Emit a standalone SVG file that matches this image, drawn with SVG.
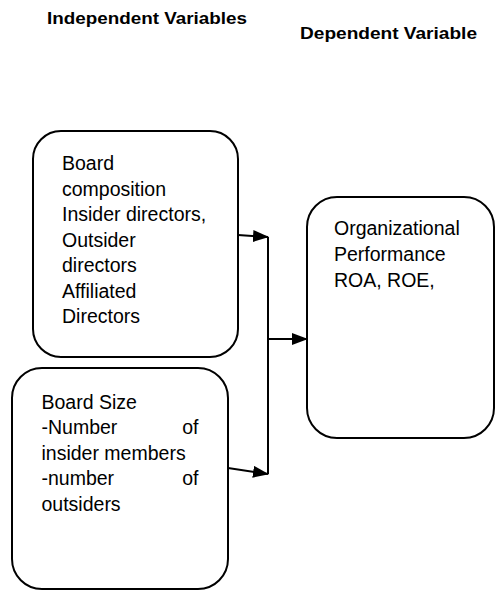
<svg xmlns="http://www.w3.org/2000/svg" width="496" height="590" viewBox="0 0 496 590">
  <defs>
    <style>
      .box { fill: #ffffff; stroke: #000000; stroke-width: 2; }
      .head { font-family: "Liberation Sans", Arial, sans-serif; font-weight: bold; font-size: 16.5px; fill: #000000; }
      .txt { font-family: "Liberation Sans", Arial, sans-serif; font-size: 19.5px; fill: #000000; }
      .conn { fill: none; stroke: #000000; stroke-width: 2; }
    </style>
    <marker id="arrow" viewBox="0 0 16 12" refX="15" refY="6" markerWidth="16" markerHeight="12" markerUnits="userSpaceOnUse" orient="auto">
      <path d="M0,0 L16,6 L0,12 Z" fill="#000000"/>
    </marker>
  </defs>
  <rect width="496" height="590" fill="#ffffff"/>

  <g id="headings">
    <text class="head" x="47" y="23.5" textLength="200" lengthAdjust="spacingAndGlyphs">Independent Variables</text>
    <text class="head" x="300" y="39" textLength="177" lengthAdjust="spacingAndGlyphs">Dependent Variable</text>
  </g>

  <g id="board-composition">
    <rect class="box" x="33" y="131" width="205" height="226" rx="28" ry="28"/>
    <text class="txt" x="62" y="170">Board</text>
    <text class="txt" x="62" y="195.5">composition</text>
    <text class="txt" x="62" y="221">Insider directors,</text>
    <text class="txt" x="62" y="246.5">Outsider</text>
    <text class="txt" x="62" y="272">directors</text>
    <text class="txt" x="62" y="297.5">Affiliated</text>
    <text class="txt" x="62" y="323">Directors</text>
  </g>

  <g id="board-size">
    <rect class="box" x="12" y="368" width="216" height="221" rx="30" ry="30"/>
    <text class="txt" x="41.5" y="408.5">Board Size</text>
    <text class="txt" x="41.5" y="434">-Number</text>
    <text class="txt" x="198.5" y="434" text-anchor="end">of</text>
    <text class="txt" x="41.5" y="459.5">insider members</text>
    <text class="txt" x="41.5" y="485">-number</text>
    <text class="txt" x="198.5" y="485" text-anchor="end">of</text>
    <text class="txt" x="41.5" y="510.5">outsiders</text>
  </g>

  <g id="organizational-performance">
    <rect class="box" x="307" y="197" width="187" height="241" rx="30" ry="30"/>
    <text class="txt" x="334" y="235">Organizational</text>
    <text class="txt" x="334" y="261">Performance</text>
    <text class="txt" x="334" y="287">ROA, ROE,</text>
  </g>

  <g id="connectors">
    <line class="conn" x1="268" y1="237" x2="268" y2="474"/>
    <line class="conn" x1="238" y1="235" x2="268" y2="237" marker-end="url(#arrow)"/>
    <line class="conn" x1="228" y1="468" x2="268" y2="474" marker-end="url(#arrow)"/>
    <line class="conn" x1="268" y1="339" x2="307" y2="339" marker-end="url(#arrow)"/>
  </g>
</svg>
